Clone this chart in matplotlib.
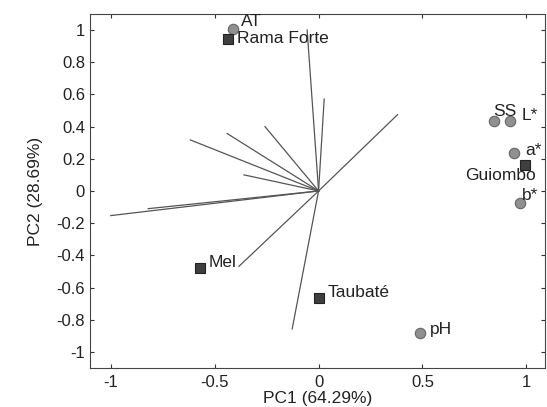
import matplotlib
matplotlib.use("Agg")
import matplotlib.pyplot as plt

plt.rcParams['font.family'] = ['Liberation Sans', 'DejaVu Sans']

# loading vectors (end points, drawn from origin)
LOAD_X = [-0.055, 0.027, -0.617, -0.44, -0.258, -0.359, 0.38, -1.0, -0.82, -0.383, -0.127]
LOAD_Y = [1.0, 0.571, 0.317, 0.357, 0.40, 0.10, 0.474, -0.153, -0.11, -0.468, -0.857]

# variables (circles)
VAR_NAMES = ["AT", "SS", "L*", "a*", "b*", "pH"]
VAR_X = [-0.413, 0.846, 0.923, 0.942, 0.971, 0.489]
VAR_Y = [1.006, 0.437, 0.437, 0.236, -0.077, -0.884]

# samples (squares)
SAMPLE_NAMES = ["Rama Forte", "Guiombo", "Mel", "Taubaté"]
SAMPLE_X = [-0.4375, 0.995, -0.572, 0.0]
SAMPLE_Y = [0.944, 0.163, -0.478, -0.665]

XTICKS = [-1, -0.5, 0, 0.5, 1]
YTICKS = [-1, -0.8, -0.6, -0.4, -0.2, 0, 0.2, 0.4, 0.6, 0.8, 1]

fig = plt.figure(figsize=(5.47, 4.07), dpi=100)
ax = fig.add_axes([0.1645, 0.0958, 0.832, 0.87])

for lx, ly in zip(LOAD_X, LOAD_Y):
    ax.plot([0, lx], [0, ly], color="#555555", lw=0.9)

ax.plot(VAR_X, VAR_Y, "o", ms=7.5, mfc="#909090", mec="#666666", mew=0.8, ls="none")
ax.plot(SAMPLE_X, SAMPLE_Y, "s", ms=6.5, mfc="#3f3f3f", mec="#222222", mew=0.8, ls="none")

# label placement (text position relative to its marker)
var_lbl = {"AT": (0.038, 0.046, "left"), "SS": (-0.005, 0.057, "left"),
           "L*": (0.052, 0.031, "left"), "a*": (0.052, 0.014, "left"),
           "b*": (0.008, 0.047, "left"), "pH": (0.049, 0.021, "left")}
for n, x, y in zip(VAR_NAMES, VAR_X, VAR_Y):
    dx, dy, ha = var_lbl[n]
    ax.text(x + dx, y + dy, n, fontsize=12.5, ha=ha, va="center", color="#222222")

smp_lbl = {"Rama Forte": (0.043, 0.004, "left"), "Guiombo": (-0.12, -0.068, "center"),
           "Mel": (0.045, 0.035, "left"), "Taubaté": (0.045, 0.035, "left")}
for n, x, y in zip(SAMPLE_NAMES, SAMPLE_X, SAMPLE_Y):
    dx, dy, ha = smp_lbl[n]
    ax.text(x + dx, y + dy, n, fontsize=12.5, ha=ha, va="center", color="#222222")

ax.set_xlim(-1.1, 1.09)
ax.set_ylim(-1.1, 1.1)
ax.set_xticks(XTICKS)
ax.set_xticklabels(["-1", "-0.5", "0", "0.5", "1"])
ax.set_yticks(YTICKS)
ax.set_yticklabels(["-1", "-0.8", "-0.6", "-0.4", "-0.2", "0", "0.2", "0.4", "0.6", "0.8", "1"])
ax.tick_params(direction="in", top=True, right=True, labelsize=12, length=3,
               colors="#333333", labelcolor="#222222")
ax.tick_params(axis="x", pad=5)
for s in ax.spines.values():
    s.set_color("#444444")
    s.set_linewidth(0.8)

ax.set_xlabel("PC1 (64.29%)", fontsize=12.5, color="#222222", labelpad=1)
ax.set_ylabel("PC2 (28.69%)", fontsize=12.5, color="#222222", labelpad=10)

fig.savefig("out.png", dpi=100)
